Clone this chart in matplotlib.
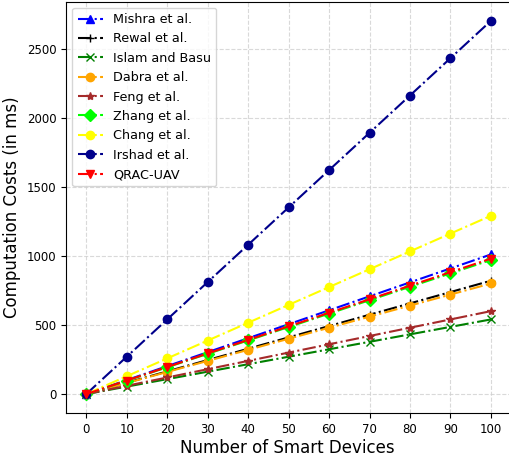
import matplotlib
matplotlib.use("Agg")
import matplotlib.pyplot as plt

devices = [0, 10, 20, 30, 40, 50, 60, 70, 80, 90, 100]

mishra = [0, 101, 202, 303, 404, 505, 606, 707, 808, 909, 1010]
rewal = [0, 82, 164, 246, 328, 410, 492, 574, 656, 738, 820]
islam = [0, 54, 108, 162, 216, 270, 324, 378, 432, 486, 540]
dabra = [0, 80, 160, 240, 320, 400, 480, 560, 640, 720, 800]
feng = [0, 60, 120, 180, 240, 300, 360, 420, 480, 540, 600]
zhang = [0, 97, 194, 291, 388, 485, 582, 679, 776, 873, 970]
chang = [0, 129, 258, 387, 516, 645, 774, 903, 1032, 1161, 1290]
irshad = [0, 270, 540, 810, 1080, 1350, 1620, 1890, 2160, 2430, 2700]
qrac = [0, 98, 196, 294, 392, 490, 588, 686, 784, 882, 980]

series = [
    ("Mishra et al.", mishra, "blue", "^"),
    ("Rewal et al.", rewal, "black", "+"),
    ("Islam and Basu", islam, "green", "x"),
    ("Dabra et al.", dabra, "orange", "o"),
    ("Feng et al.", feng, "brown", "*"),
    ("Zhang et al.", zhang, "lime", "D"),
    ("Chang et al.", chang, "yellow", "o"),
    ("Irshad et al.", irshad, "darkblue", "o"),
    ("QRAC-UAV", qrac, "red", "v"),
]

fig = plt.figure(figsize=(5.09, 4.59), dpi=100)
ax = fig.add_axes([0.1297, 0.1002, 0.8713, 0.8965])

for label, vals, color, marker in series:
    ax.plot(devices, vals, linestyle="-.", color=color, marker=marker,
            markersize=6, linewidth=1.5, label=label)

ax.set_xticks(devices)
ax.set_yticks([0, 500, 1000, 1500, 2000, 2500])
ax.set_xlim(-5, 104.6)
ax.set_ylim(-137, 2840)
ax.grid(True, linestyle="--", color="#d0d0d0", linewidth=0.8, alpha=0.8)
ax.tick_params(labelsize=8.5)
ax.set_xlabel("Number of Smart Devices", fontsize=12, labelpad=2)
ax.set_ylabel("Computation Costs (in ms)", fontsize=12, labelpad=4)
ax.legend(loc="upper left", fontsize=9.2)

fig.savefig("out.png", dpi=100)
